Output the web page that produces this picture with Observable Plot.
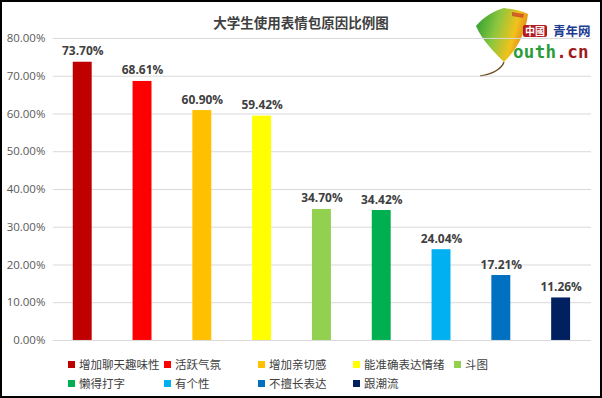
<!DOCTYPE html>
<html>
<head>
<meta charset="utf-8">
<script src="https://cdn.jsdelivr.net/npm/d3@7"></script>
<script src="https://cdn.jsdelivr.net/npm/@observablehq/plot@0.6"></script>
<style>
  html, body { margin: 0; padding: 0; background: #fff; }
  #frame { position: relative; width: 602px; height: 398px; box-sizing: border-box; border: 2px solid #000; overflow: hidden; background: #fff;
           font-family: "Open Sans", "Noto Sans CJK SC", sans-serif; }
  #title { position: absolute; left: -2px; width: 602px; top: 10px; text-align: center; font-size: 13.5px; font-weight: bold; color: #404040;
           font-family: "Noto Sans CJK SC", sans-serif; line-height: 20px; }
  #chart { position: absolute; left: -2px; top: 26px; }
  #legend { position: absolute; left: 66px; top: 353px; display: grid; grid-template-columns: 96px 94px 95px 101px auto; row-gap: 1px;
            font-family: "Noto Sans CJK SC", sans-serif; font-size: 11.5px; color: #404040; line-height: 18px; }
  .item { display: flex; align-items: center; white-space: nowrap; }
  .sw { width: 7px; height: 7px; margin-right: 4px; flex: none; }
  #logo { position: absolute; left: 472px; top: 2px; width: 125px; height: 75px; }
  #logo .cn1 { position: absolute; left: 49px; top: 21px; background: #b01e23; color: #fff; font-size: 10px; line-height: 12px; padding: 0 2px; border-radius: 2px;
               font-family: "Noto Sans CJK TC", sans-serif; font-weight: bold; }
  #logo .cn2 { position: absolute; left: 79px; top: 19px; color: #1d3d8f; font-size: 12.5px; line-height: 16px; font-weight: bold; font-family: "Noto Sans CJK TC", serif; }
  #logo .url { position: absolute; left: 39px; top: 37px; font-family: "DejaVu Sans Mono", monospace; font-weight: bold; font-size: 17.5px; line-height: 22px; letter-spacing: 0.3px; }
</style>
</head>
<body>
<div id="frame">
  <div id="title"></div>
  <div id="logo">
    <svg width="60" height="75" viewBox="0 0 60 75" style="position:absolute;left:0;top:0">
      <defs>
        <linearGradient id="lg" x1="0" y1="0" x2="1" y2="0.3">
          <stop offset="0" stop-color="#1f9a2e"/>
          <stop offset="0.45" stop-color="#8cc63f"/>
          <stop offset="0.8" stop-color="#f2c21b"/>
          <stop offset="1" stop-color="#e08a1c"/>
        </linearGradient>
      </defs>
      <path d="M30 58 C20 48 8 36 2 22 C10 12 22 6 30 4 C36 5 46 6 54 10 C52 28 44 44 30 58 Z" fill="url(#lg)"/>
      <path d="M38 8 L50 10 L49 14 L38 12 Z" fill="#c9372c" opacity="0.7"/>
      <path d="M30 58 C28 64 20 70 6 72" stroke="#6b4a1e" stroke-width="1.3" fill="none"/>
    </svg>
    <div class="cn1">中國</div>
    <div class="cn2">青年网</div>
    <div class="url"><span style="color:#2a9d3a">outh</span><span style="color:#9e1b20">.cn</span></div>
  </div>
  <div id="chart"></div>
  <div id="legend"></div>
</div>
<script>
const titleText = "大学生使用表情包原因比例图";
const categories = ["增加聊天趣味性", "活跃气氛", "增加亲切感", "能准确表达情绪", "斗图", "懒得打字", "有个性", "不擅长表达", "跟潮流"];
const values = [73.70, 68.61, 60.90, 59.42, 34.70, 34.42, 24.04, 17.21, 11.26];
const palette = ["#C00000", "#FF0000", "#FFC000", "#FFFF00", "#92D050", "#00B050", "#00B0F0", "#0070C0", "#002060"];
const yTicks = [0, 10, 20, 30, 40, 50, 60, 70, 80];

const data = categories.map((c, i) => ({name: c, value: values[i]}));
const fmt = d => d.toFixed(2) + "%";

document.getElementById("title").textContent = titleText;

const chart = Plot.plot({
  width: 602,
  height: 324,
  marginTop: 10,
  marginBottom: 11,
  marginLeft: 53,
  marginRight: 9,
  style: {fontFamily: "'Open Sans', 'Noto Sans CJK SC', sans-serif", background: "transparent"},
  x: {domain: categories, paddingInner: 0.683, paddingOuter: 0.3415, axis: null},
  y: {domain: [0, 80], ticks: yTicks, tickFormat: fmt, label: null, tickSize: 0, tickPadding: 8},
  color: {domain: categories, range: palette},
  marks: [
    Plot.gridY(yTicks, {stroke: "#D9D9D9", strokeOpacity: 1, strokeWidth: 1}),
    Plot.axisY(yTicks, {tickFormat: fmt, tickSize: 0, tickPadding: 8, label: null, fontSize: 11.5, fill: "#595959"}),
    Plot.barY(data, {x: "name", y: "value", fill: "name"}),
    Plot.text(data, {x: "name", y: "value", text: d => fmt(d.value), dy: -7, lineAnchor: "bottom",
                     fontWeight: "bold", fontSize: 12, fill: "#404040"})
  ]
});
document.getElementById("chart").appendChild(chart);

const legend = document.getElementById("legend");
categories.forEach((c, i) => {
  const item = document.createElement("div");
  item.className = "item";
  const sw = document.createElement("span");
  sw.className = "sw";
  sw.style.background = palette[i];
  const t = document.createElement("span");
  t.textContent = c;
  item.appendChild(sw);
  item.appendChild(t);
  legend.appendChild(item);
});
</script>
</body>
</html>
